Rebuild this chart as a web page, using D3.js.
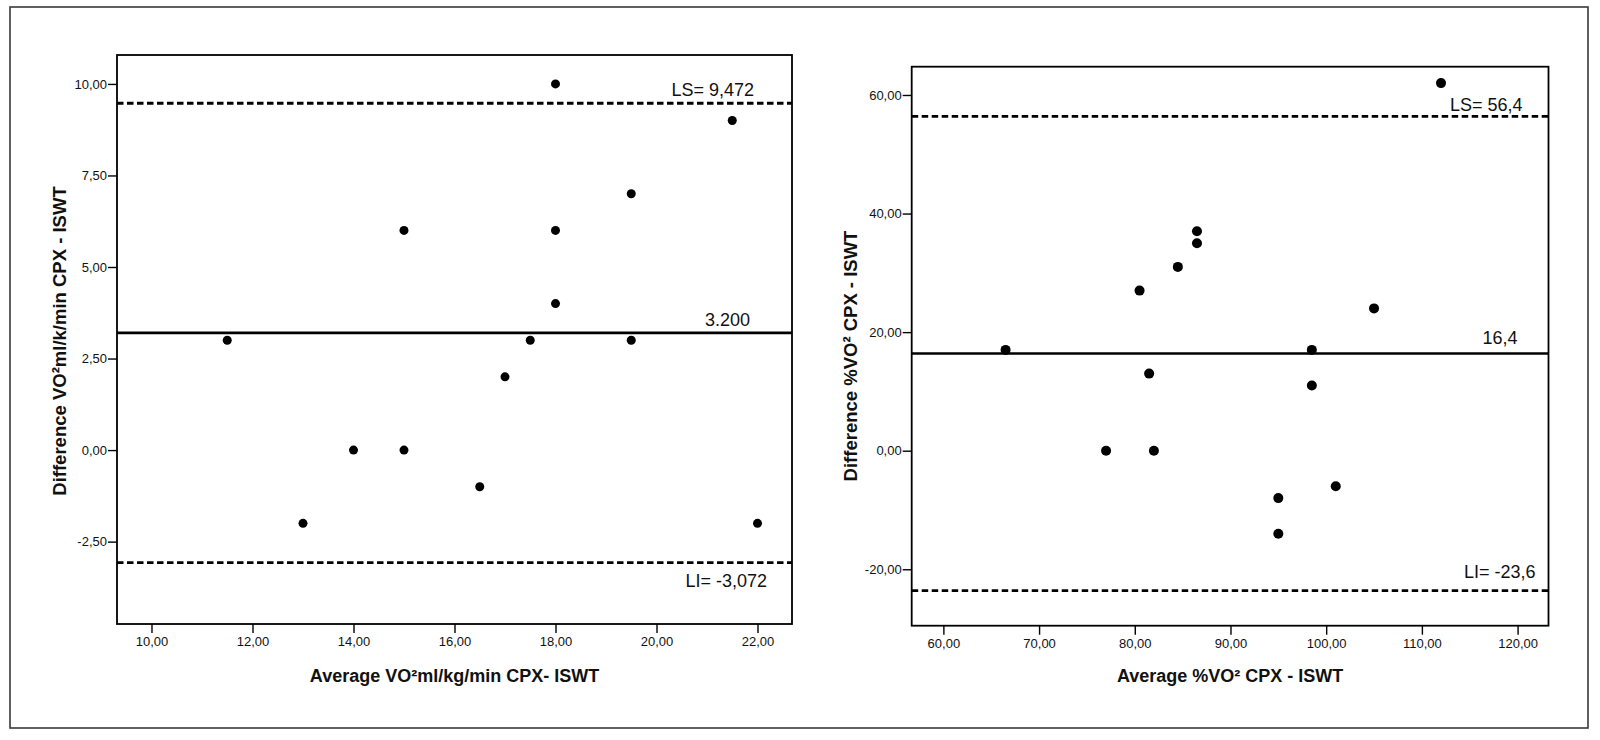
<!DOCTYPE html>
<html>
<head>
<meta charset="utf-8">
<script src="https://cdn.jsdelivr.net/npm/d3@7"></script>
<style>
  body { margin: 0; background: #fff; }
  svg { display: block; font-family: "Liberation Sans", Arial, sans-serif; }
</style>
</head>
<body>
<div id="chart"></div>
<script>
// Left panel: VO2 ml/kg/min
const leftAvg  = [18, 21.5, 19.5, 15, 18, 18, 11.5, 17.5, 19.5, 17, 14, 15, 16.5, 13, 22];
const leftDiff = [10, 9, 7, 6, 6, 4, 3, 3, 3, 2, 0, 0, -1, -2, -2];
const leftXTicks = [10, 12, 14, 16, 18, 20, 22];
const leftYTicks = [-2.5, 0, 2.5, 5, 7.5, 10];
const leftLimits = [9.472, 3.2, -3.072];
const leftLabels = ["LS= 9,472", "3.200", "LI= -3,072"];

// Right panel: %VO2
const rightAvg  = [112, 86.5, 86.5, 84.5, 80.5, 105, 66.5, 98.5, 81.5, 98.5, 77, 82, 101, 95, 95];
const rightDiff = [62, 37, 35, 31, 27, 24, 17, 17, 13, 11, 0, 0, -6, -8, -14];
const rightXTicks = [60, 70, 80, 90, 100, 110, 120];
const rightYTicks = [-20, 0, 20, 40, 60];
const rightLimits = [56.4, 16.4, -23.6];
const rightLabels = ["LS= 56,4", "16,4", "LI= -23,6"];

const width = 1600, height = 740;

const svg = d3.select("#chart")
  .append("svg")
    .attr("width", width)
    .attr("height", height);

// outer frame
svg.append("rect")
  .attr("x", 10).attr("y", 7)
  .attr("width", 1578).attr("height", 721)
  .attr("fill", "none")
  .attr("stroke", "#3a3a3a")
  .attr("stroke-width", 1.6);

// comma decimals and a plain hyphen, as in the SPSS output
const fmt = d => d3.format(".2f")(d).replace(".", ",").replace("\u2212", "-");

function drawPanel(p) {
  const x = d3.scaleLinear().domain(p.xDomain).range([p.box.x0, p.box.x1]);
  const y = d3.scaleLinear().domain(p.yDomain).range([p.box.y1, p.box.y0]);

  const g = svg.append("g");

  // x axis
  const xa = g.append("g")
    .attr("transform", `translate(0,${p.box.y1})`)
    .call(d3.axisBottom(x).tickValues(p.xTicks).tickFormat(fmt).tickSize(9).tickPadding(4));
  // y axis
  const ya = g.append("g")
    .attr("transform", `translate(${p.box.x0},0)`)
    .call(d3.axisLeft(y).tickValues(p.yTicks).tickFormat(fmt).tickSize(9).tickPadding(1));

  [xa, ya].forEach(a => {
    a.select(".domain").remove();
    a.attr("font-family", null).attr("font-size", null);
    a.selectAll("text").attr("font-size", 13).attr("fill", "#111");
    a.selectAll("line").attr("stroke", "#000").attr("stroke-width", 1.4);
  });

  // plot box
  g.append("rect")
    .attr("x", p.box.x0).attr("y", p.box.y0)
    .attr("width", p.box.x1 - p.box.x0)
    .attr("height", p.box.y1 - p.box.y0)
    .attr("fill", "none")
    .attr("stroke", "#000")
    .attr("stroke-width", 1.8);

  // limit lines (upper dashed, mean solid, lower dashed)
  g.selectAll(".limit")
    .data(p.limits)
    .join("line")
    .attr("class", "limit")
    .attr("x1", p.box.x0).attr("x2", p.box.x1)
    .attr("y1", d => y(d)).attr("y2", d => y(d))
    .attr("stroke", "#000")
    .attr("stroke-width", (d, i) => i === 1 ? 2.6 : 2.8)
    .attr("stroke-dasharray", (d, i) => i === 1 ? null : "6.5,3.5");

  g.selectAll(".limit-label")
    .data(p.limits)
    .join("text")
    .attr("class", "limit-label")
    .attr("x", (d, i) => p.box.x1 - p.labelDx[i])
    .attr("y", (d, i) => y(d) + p.labelDy[i])
    .attr("text-anchor", "end")
    .attr("font-size", 18)
    .attr("fill", "#111")
    .text((d, i) => p.labels[i]);

  // points
  g.selectAll(".dot")
    .data(p.avg.map((a, i) => [a, p.diff[i]]))
    .join("circle")
    .attr("class", "dot")
    .attr("cx", d => x(d[0]))
    .attr("cy", d => y(d[1]))
    .attr("r", p.r)
    .attr("fill", "#000");

  // titles
  g.append("text")
    .attr("x", (p.box.x0 + p.box.x1) / 2)
    .attr("y", 682)
    .attr("text-anchor", "middle")
    .attr("font-size", 18)
    .attr("font-weight", "bold")
    .attr("fill", "#111")
    .text(p.xTitle);

  g.append("text")
    .attr("transform", `translate(${p.yTitleX},${p.yTitleY}) rotate(-90)`)
    .attr("text-anchor", "middle")
    .attr("dy", "0.35em")
    .attr("font-size", 18.5)
    .attr("font-weight", "bold")
    .attr("fill", "#111")
    .text(p.yTitle);
}

drawPanel({
  box: {x0: 117, x1: 792, y0: 55, y1: 624},
  xDomain: [9.317, 22.683],
  yDomain: [-4.75, 10.79],
  xTicks: leftXTicks, yTicks: leftYTicks,
  avg: leftAvg, diff: leftDiff,
  limits: leftLimits, labels: leftLabels,
  labelDx: [38, 42, 25], labelDy: [-7, -7, 24],
  r: 4.5,
  xTitle: "Average VO\u00B2ml/kg/min CPX- ISWT",
  yTitle: "Difference VO\u00B2ml/k/min CPX - ISWT",
  yTitleX: 60, yTitleY: 341
});

drawPanel({
  box: {x0: 911.7, x1: 1548.5, y0: 66.7, y1: 625.7},
  xDomain: [56.69, 123.23],
  yDomain: [-29.52, 64.77],
  xTicks: rightXTicks, yTicks: rightYTicks,
  avg: rightAvg, diff: rightDiff,
  limits: rightLimits, labels: rightLabels,
  labelDx: [26, 31, 13], labelDy: [-5, -9, -13],
  r: 5,
  xTitle: "Average %VO\u00B2 CPX - ISWT",
  yTitle: "Difference %VO\u00B2 CPX - ISWT",
  yTitleX: 851, yTitleY: 356
});
</script>
</body>
</html>
